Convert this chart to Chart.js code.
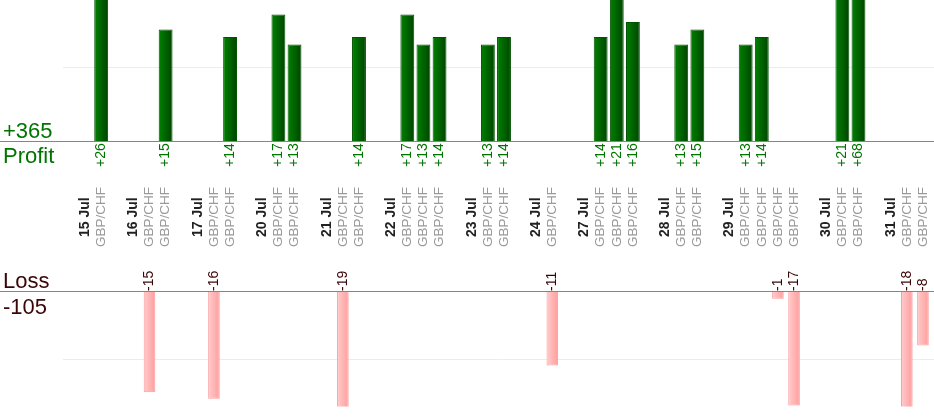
<!DOCTYPE html>
<html>
<head>
<meta charset="utf-8">
<script src="https://cdn.jsdelivr.net/npm/chart.js@4.4.0/dist/chart.umd.min.js"></script>
<style>
  body { margin: 0; background: #fff; }
  canvas { display: block; }
</style>
</head>
<body>
<canvas id="profit_chart" width="934" height="260"></canvas>
<canvas id="loss_chart" width="934" height="160"></canvas>
<script>
const dates = ['15 Jul', '16 Jul', '17 Jul', '20 Jul', '21 Jul', '22 Jul', '23 Jul',
               '24 Jul', '27 Jul', '28 Jul', '29 Jul', '30 Jul', '31 Jul'];
const tradesPerDay = [1, 2, 2, 2, 2, 3, 2, 1, 3, 2, 4, 2, 2];
const pair = 'GBP/CHF';
const results = [26, -15, 15, -16, 14, 17, 13, -19, 14, 17, 13, 14, 13, 14,
                 -11, 14, 21, 16, 13, 15, 13, 14, -1, -17, 21, 68, -18, -8];

const FONT = '"Liberation Sans", Arial, sans-serif';
const GREEN = '#007400';
const BROWN = '#3a0606';

// one slot per date label, one per trade, one empty slot between days
const slots = [];
let t = 0;
dates.forEach(function(d, i){
    slots.push({label: d, kind: 'date', value: null});
    for (let k = 0; k < tradesPerDay[i]; k++) {
        slots.push({label: pair, kind: 'pair', value: results[t++]});
    }
    if (i < dates.length - 1) slots.push({label: '', kind: 'gap', value: null});
});

const labels = slots.map(s => s.label);
const profitData = slots.map(s => s.value > 0 ? s.value : null);
const lossData = slots.map(s => s.value < 0 ? s.value : null);
const totalProfit = results.filter(v => v > 0).reduce((a, b) => a + b, 0);
const totalLoss = results.filter(v => v < 0).reduce((a, b) => a + b, 0);

function barGradient(colorA, colorB, pct){
    return function(context){
        const chart = context.chart;
        const x = chart.scales.x;
        if (!x || context.dataIndex === undefined) return colorA;
        const cx = x.getPixelForValue(context.dataIndex);
        const half = (x.width / labels.length) * pct / 2;
        if (!isFinite(cx) || !isFinite(half) || half <= 0) return colorA;
        const g = chart.ctx.createLinearGradient(cx - half, 0, cx + half, 0);
        g.addColorStop(0, colorA);
        g.addColorStop(1, colorB);
        return g;
    }
}

function rotatedText(ctx, text, x, y, font, color){
    ctx.save();
    ctx.translate(x, y);
    ctx.rotate(-Math.PI / 2);
    ctx.font = font;
    ctx.fillStyle = color;
    ctx.textAlign = 'left';
    ctx.textBaseline = 'middle';
    ctx.fillText(text, 0, 0);
    ctx.restore();
}

function hLine(ctx, x1, x2, y, color){
    ctx.save();
    ctx.strokeStyle = color;
    ctx.lineWidth = 1;
    ctx.beginPath();
    ctx.moveTo(x1, Math.round(y) + 0.5);
    ctx.lineTo(x2, Math.round(y) + 0.5);
    ctx.stroke();
    ctx.restore();
}

/**
 * Profit Chart (top)
 */
const profitDecor = {
    id: 'profitDecor',
    beforeDatasetsDraw(chart){
        const y = chart.scales.y;
        hLine(chart.ctx, 63, chart.width, y.getPixelForValue(10), '#ececec');
    },
    afterDatasetsDraw(chart){
        const ctx = chart.ctx, x = chart.scales.x, y = chart.scales.y;
        const base = y.getPixelForValue(0);
        hLine(ctx, 0, chart.width, base - 1, '#858585');
        slots.forEach(function(s, i){
            const px = x.getPixelForValue(i);
            if (s.value > 0) rotatedText(ctx, '+' + s.value, px, base + 25, '14px ' + FONT, GREEN);
            if (s.kind === 'date') rotatedText(ctx, s.label, px, 237, 'bold 14px ' + FONT, '#222');
            if (s.kind === 'pair') rotatedText(ctx, s.label, px, 247, '13.5px ' + FONT, '#9a9a9a');
        });
        ctx.save();
        ctx.font = '22px ' + FONT;
        ctx.fillStyle = GREEN;
        ctx.textBaseline = 'alphabetic';
        ctx.fillText('+' + totalProfit, 3, 138);
        ctx.fillText('Profit', 3, 163);
        ctx.restore();
    }
};

const profitChart = new Chart(document.getElementById('profit_chart').getContext('2d'), {
    type: 'bar',
    data: {
        labels: labels,
        datasets: [{
            label: 'Profit',
            data: profitData,
            backgroundColor: barGradient('#008200', '#004400', 0.86),
            borderColor: '#005400',
            borderWidth: 1,
            barPercentage: 0.86,
            categoryPercentage: 1
        }]
    },
    options: {
        responsive: false,
        animation: false,
        layout: { padding: { left: 77, right: 3, top: 0, bottom: 118 } },
        plugins: { legend: { display: false }, tooltip: { enabled: false } },
        scales: {
            x: { display: false },
            y: { display: false, min: 0, max: 18.93 }
        }
    },
    plugins: [profitDecor]
});

/**
 * Loss Chart (bottom)
 */
const lossDecor = {
    id: 'lossDecor',
    beforeDatasetsDraw(chart){
        const y = chart.scales.y;
        hLine(chart.ctx, 63, chart.width, y.getPixelForValue(-10), '#ececec');
    },
    afterDatasetsDraw(chart){
        const ctx = chart.ctx, x = chart.scales.x, y = chart.scales.y;
        const base = y.getPixelForValue(0);
        hLine(ctx, 0, chart.width, base - 1, '#858585');
        slots.forEach(function(s, i){
            if (s.value < 0) rotatedText(ctx, String(s.value), x.getPixelForValue(i), base - 1, '14px ' + FONT, BROWN);
        });
        ctx.save();
        ctx.font = '22px ' + FONT;
        ctx.fillStyle = BROWN;
        ctx.textBaseline = 'alphabetic';
        ctx.fillText('Loss', 3, 28);
        ctx.fillText(String(totalLoss), 3, 54);
        ctx.restore();
    }
};

const lossChart = new Chart(document.getElementById('loss_chart').getContext('2d'), {
    type: 'bar',
    data: {
        labels: labels,
        datasets: [{
            label: 'Loss',
            data: lossData,
            backgroundColor: barGradient('#ffcccc', '#ff9d9d', 0.72),
            borderColor: '#ff9a9a',
            borderWidth: 1,
            barPercentage: 0.72,
            categoryPercentage: 1,
            clip: 0
        }]
    },
    options: {
        responsive: false,
        animation: false,
        layout: { padding: { left: 77, right: 3, top: 32, bottom: 13.5 } },
        plugins: { legend: { display: false }, tooltip: { enabled: false } },
        scales: {
            x: { display: false },
            y: { display: false, min: -17.15, max: 0 }
        }
    },
    plugins: [lossDecor]
});
</script>
</body>
</html>
